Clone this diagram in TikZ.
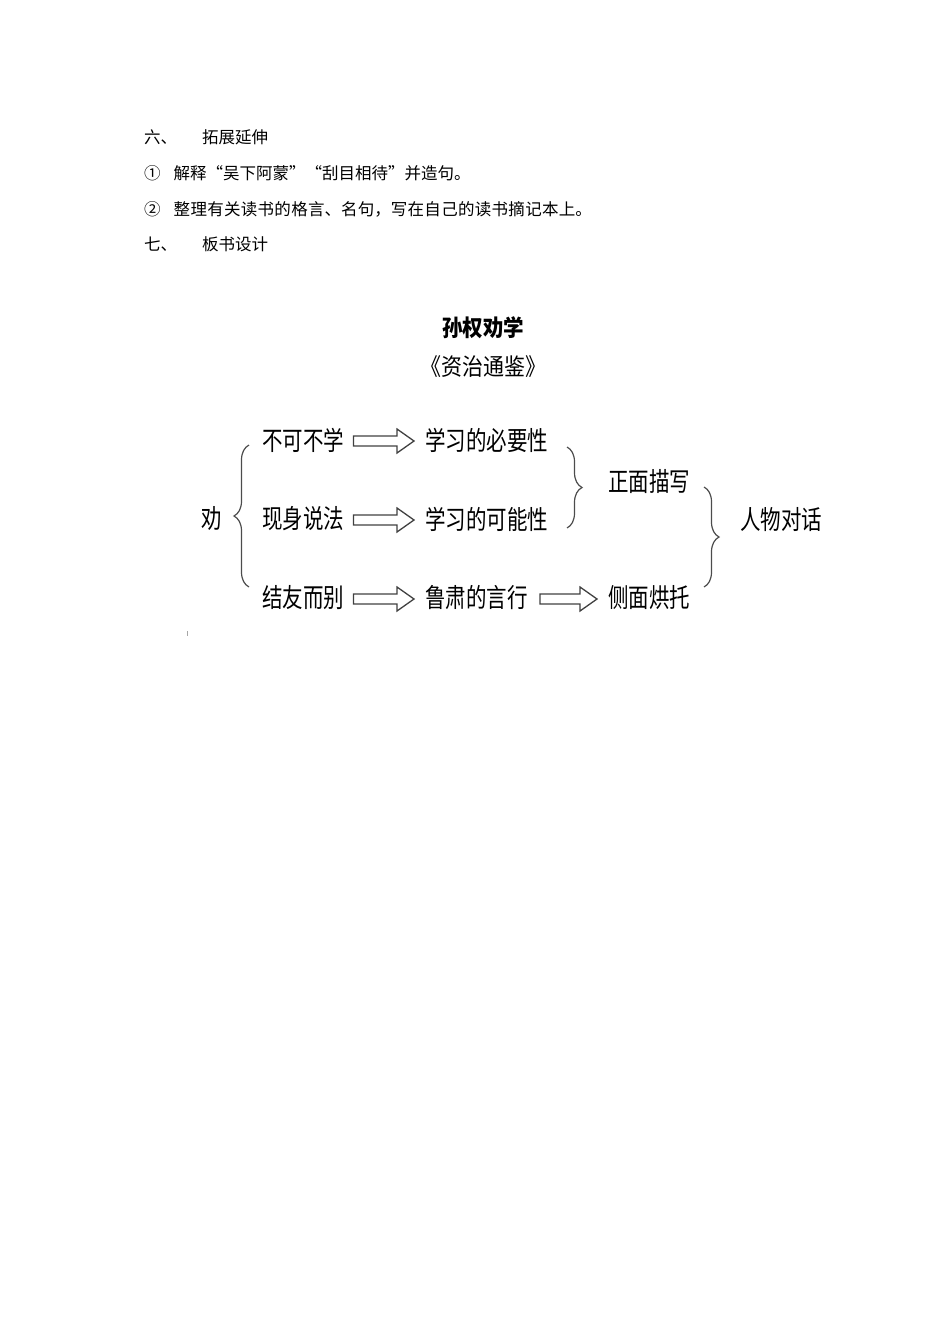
\documentclass[tikz,border=0pt]{standalone}
\usepackage{fontspec}
\newfontfamily\cjk{Noto Sans CJK SC}
\usetikzlibrary{calc,decorations.pathreplacing}
\begin{document}
\begin{tikzpicture}[x=1pt,y=1pt,
  body/.style={anchor=west,inner sep=0pt,font=\cjk\fontsize{16.5}{18}\selectfont},
  dia/.style={anchor=west,inner sep=0pt,yscale=1.28,transform shape,font=\cjk\fontsize{20.5}{22}\selectfont},
  ttl/.style={inner sep=0pt,yscale=1.12,transform shape},
  hollow/.style={draw=black!75,line width=1.3pt,line join=miter,
    to path={let \p1=(\tikztostart), \p2=(\tikztotarget) in
      (\x1,\y1+5pt) -- (\x2-17pt,\y1+5pt) -- (\x2-17pt,\y1+12pt) -- (\x2,\y1)
      -- (\x2-17pt,\y1-12pt) -- (\x2-17pt,\y1-5pt) -- (\x1,\y1-5pt) -- cycle}},
  bracestyle/.style={draw=black!70,line width=1.2pt,decorate,
    decoration={brace,amplitude=15pt,aspect=0.5}}
]
\useasboundingbox (0,0) rectangle (950,-1344);
% header text
\node[body] (s6) at (144,-137) {六、};
\node[body] (s6t) at (202,-137) {拓展延伸};
\node[body] (c1) at (144,-173) {①\hspace{13pt}解释“吴下阿蒙”“刮目相待”并造句。};
\node[body] (c2) at (144,-209) {②\hspace{13pt}整\hspace{0.3pt}理\hspace{0.3pt}有\hspace{0.3pt}关\hspace{0.3pt}读\hspace{0.3pt}书\hspace{0.3pt}的\hspace{0.3pt}格\hspace{0.3pt}言、名\hspace{0.3pt}句，写\hspace{0.3pt}在\hspace{0.3pt}自\hspace{0.3pt}己\hspace{0.3pt}的\hspace{0.3pt}读\hspace{0.3pt}书\hspace{0.3pt}摘\hspace{0.3pt}记\hspace{0.3pt}本\hspace{0.3pt}上。};
\node[body] (s7) at (144,-244) {七、};
\node[body] (s7t) at (202,-244) {板书设计};
% title
\node[ttl,font=\cjk\bfseries\fontsize{20.5}{22}\selectfont] (title) at (483,-328) {孙权劝学};
\node[ttl,font=\cjk\fontsize{21}{22}\selectfont] (book) at (483,-367) {《资治通鉴》};
% diagram
\node[dia] (quan) at (201,-518) {劝};
\node[dia] (a1) at (262,-440) {不可不学};
\node[dia] (a2) at (262,-519) {现身说法};
\node[dia] (a3) at (262,-598) {结友而别};
\node[dia] (b1) at (425,-440) {学习的必要性};
\node[dia] (b2) at (425,-519) {学习的可能性};
\node[dia] (b3) at (425,-598) {鲁肃的言行};
\node[dia] (c3) at (608,-598) {侧面烘托};
\node[dia] (zm) at (608,-482) {正面描写};
\node[dia] (rw) at (740,-520) {人物对话};
% arrows
\draw[hollow] ([xshift=9pt,yshift=-1pt]a1.east) to ([xshift=-11pt]b1.west);
\draw[hollow] ([xshift=9pt,yshift=-1pt]a2.east) to ([xshift=-11pt]b2.west);
\draw[hollow] ([xshift=9pt,yshift=-1pt]a3.east) to ([xshift=-11pt]b3.west);
\draw[hollow] ([xshift=12pt,yshift=-1pt]b3.east) to ([xshift=-11pt]c3.west);
% braces
\coordinate (l1) at (249,-587);
\coordinate (l2) at (249,-445);
\draw[bracestyle] (l1) -- (l2);
\coordinate (r1) at (567,-447);
\coordinate (r2) at (567,-528);
\draw[bracestyle] (r1) -- (r2);
\coordinate (q1) at (704,-487);
\coordinate (q2) at (704,-587);
\draw[bracestyle] (q1) -- (q2);
% stray mark
\coordinate (m1) at (187.5,-631);
\coordinate (m2) at (187.5,-636);
\draw[black!35,line width=0.8pt] (m1) -- (m2);
\end{tikzpicture}
\end{document}
